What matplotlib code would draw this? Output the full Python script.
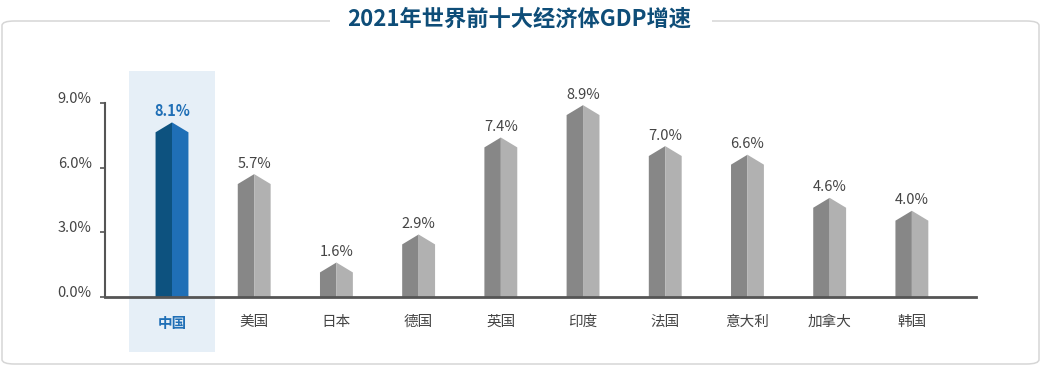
import matplotlib
matplotlib.use("Agg")
import matplotlib.pyplot as plt
from matplotlib.patches import Polygon, Rectangle, FancyBboxPatch
from matplotlib.transforms import ScaledTranslation

plt.rcParams['font.family'] = ['Noto Sans CJK SC', 'DejaVu Sans']

countries = ['中国', '美国', '日本', '德国', '英国', '印度', '法国', '意大利', '加拿大', '韩国']
growth = [8.1, 5.7, 1.6, 2.9, 7.4, 8.9, 7.0, 6.6, 4.6, 4.0]
yticks = [0.0, 3.0, 6.0, 9.0]
title = '2021年世界前十大经济体GDP增速'

W, H = 1044, 375
fig = plt.figure(figsize=(W / 100, H / 100), dpi=100)

# outer rounded frame
frame = FancyBboxPatch((2 / W, (H - 364) / H), 1037 / W, 343 / H,
                       boxstyle="round,pad=0,rounding_size=0.012",
                       transform=fig.transFigure, fc='white', ec='#d6d6d6', lw=1.1,
                       zorder=-2)
fig.patches.append(frame)
fig.patches.append(Rectangle((330 / W, (H - 28) / H), 382 / W, 14 / H,
                             transform=fig.transFigure, fc='white', ec='none', zorder=-1))
fig.text(519 / W, (H - 19) / H, title, ha='center', va='center', fontsize=16,
         fontweight='bold', color='#0e4d78')

ax = fig.add_axes([105 / W, (H - 297) / H, 871 / W, 194 / H])
ax.set_xlim(-0.815, 9.78)
ax.set_ylim(0, 9)
ax.patch.set_alpha(0)

w = 0.4
tip = 0.46
for i, v in enumerate(growth):
    if i == 0:
        cl, cr, tc, fw = '#0d527f', '#1f6fb6', '#1f6fb6', 'bold'
    else:
        cl, cr, tc, fw = '#878787', '#b1b1b1', '#444444', 'normal'
    ax.add_patch(Polygon([(i - w / 2, 0), (i - w / 2, v - tip), (i, v), (i, 0)],
                         closed=True, fc=cl, ec='none', zorder=3))
    ax.add_patch(Polygon([(i, 0), (i, v), (i + w / 2, v - tip), (i + w / 2, 0)],
                         closed=True, fc=cr, ec='none', zorder=3))
    ax.text(i, v + 0.16, f'{v:.1f}%', ha='center', va='bottom', fontsize=10.5,
            color=tc, fontweight=fw, clip_on=False)

# highlight for China
ax.add_patch(Rectangle((-0.52, -2.54), 1.04, 13.02, fc='#e6eff7', ec='none',
                       zorder=0, clip_on=False))

ax.set_xticks(range(len(countries)))
ax.set_xticklabels(countries, fontsize=10.5, color='#444444')
lab0 = ax.get_xticklabels()[0]
lab0.set_color('#1f6fb6')
lab0.set_fontweight('bold')
ax.tick_params(axis='x', length=0, pad=13)

ax.set_yticks(yticks)
ax.set_yticklabels([f'{t:.1f}%' for t in yticks], fontsize=10.5, color='#444444')
ax.tick_params(axis='y', length=3.5, width=1.2, color='#555555', pad=6)
shift = ScaledTranslation(0, 4 / 72, fig.dpi_scale_trans)
for lab in ax.get_yticklabels():
    lab.set_transform(lab.get_transform() + shift)

for s in ['top', 'right']:
    ax.spines[s].set_visible(False)
ax.spines['left'].set_color('#555555')
ax.spines['left'].set_linewidth(1.5)
ax.spines['bottom'].set_color('#555555')
ax.spines['bottom'].set_linewidth(2)
ax.spines['bottom'].set_zorder(4)

fig.savefig('out.png', dpi=100)
